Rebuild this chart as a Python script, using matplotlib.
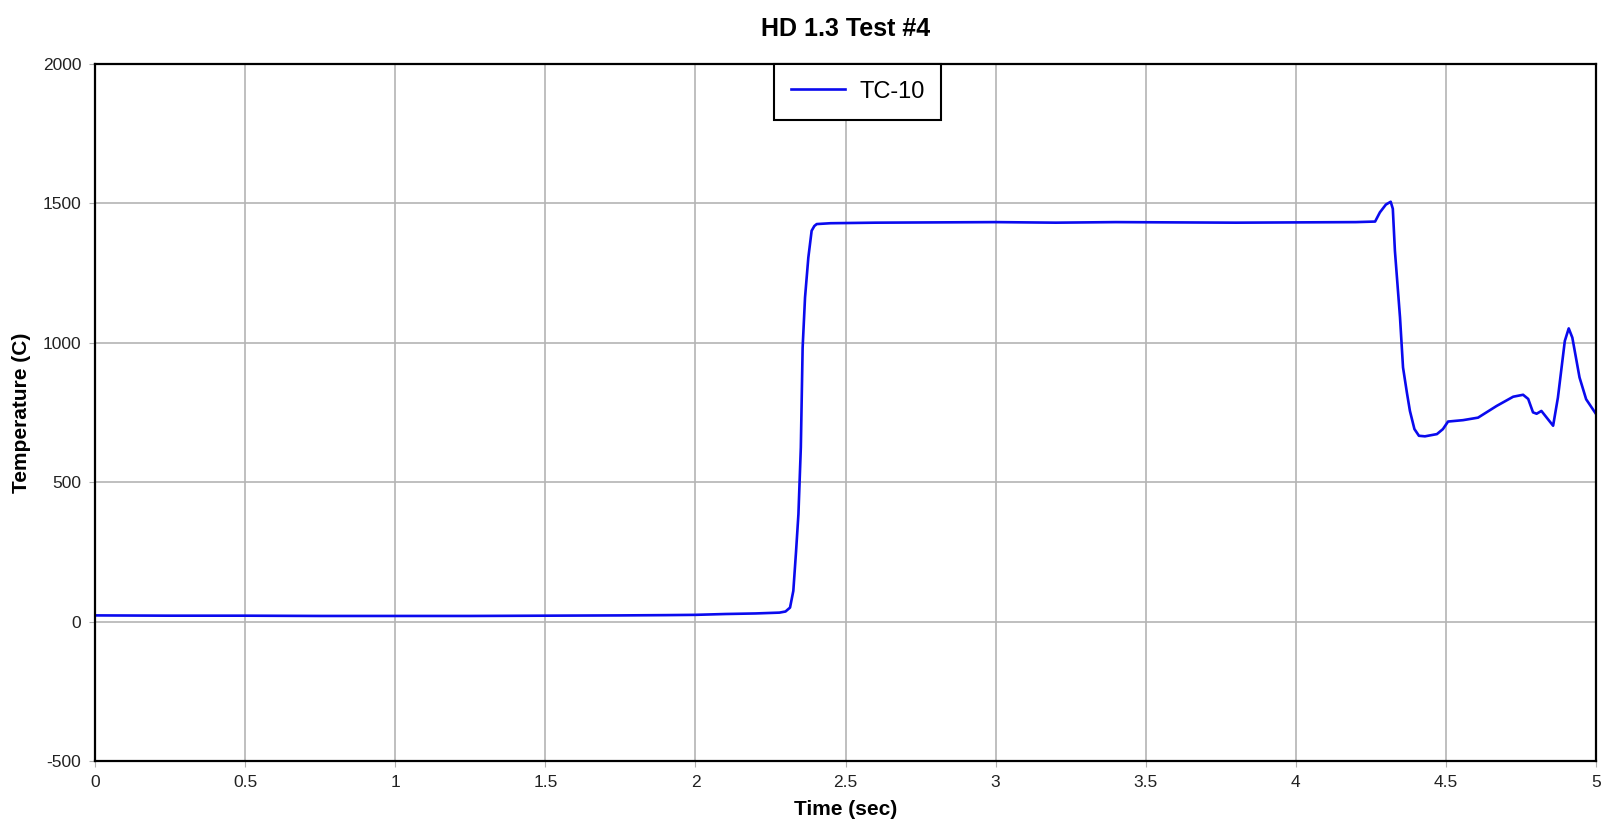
import matplotlib
matplotlib.use("Agg")
import matplotlib.pyplot as plt


# TC-10 readings
time_s = [0, 0.25, 0.5, 0.75, 1.0, 1.25, 1.5, 1.75, 1.9, 2.0,
          2.1, 2.2, 2.28, 2.30, 2.315, 2.326, 2.335, 2.343, 2.351, 2.357,
          2.365, 2.376, 2.387, 2.396, 2.404, 2.45, 2.6, 2.8, 3.0, 3.2,
          3.4, 3.6, 3.8, 4.0, 4.2, 4.264, 4.28, 4.30, 4.316, 4.323,
          4.33, 4.347, 4.357, 4.37, 4.38, 4.395, 4.41, 4.43, 4.47, 4.49,
          4.507, 4.557, 4.607, 4.669, 4.724, 4.757, 4.774, 4.79, 4.802, 4.818,
          4.857, 4.873, 4.896, 4.909, 4.921, 4.945, 4.967, 5.0]
temp_c = [22, 21, 21, 20, 20, 20, 21, 22, 23, 24,
          27, 29, 32, 36, 50, 110, 250, 385, 624, 982,
          1162, 1305, 1401, 1418, 1425, 1428, 1430, 1431, 1432, 1430,
          1432, 1431, 1430, 1431, 1432, 1434, 1467, 1495, 1505, 1480,
          1329, 1090, 911, 820, 755, 690, 666, 664, 672, 690,
          717, 722, 731, 773, 806, 813, 798, 750, 745, 755,
          702, 803, 1006, 1051, 1018, 875, 797, 744]

x_ticks = [0, 0.5, 1, 1.5, 2, 2.5, 3, 3.5, 4, 4.5, 5]
x_tick_labels = ["0", "0.5", "1", "1.5", "2", "2.5", "3", "3.5", "4", "4.5", "5"]
y_ticks = [-500, 0, 500, 1000, 1500, 2000]

plt.rcParams['font.family'] = ['Liberation Sans', 'DejaVu Sans']
plt.rcParams['axes.unicode_minus'] = False

fig = plt.figure(figsize=(16.06, 8.27), dpi=100)
ax = fig.add_axes([0.0592, 0.0798, 0.9346, 0.8432])

ax.plot(time_s, temp_c, color='#0a0aee', lw=1.9, label='TC-10')

ax.set_xlim(0, 5)
ax.set_ylim(-500, 2000)
ax.set_xticks(x_ticks)
ax.set_xticklabels(x_tick_labels)
ax.set_yticks(y_ticks)
ax.tick_params(labelsize=12.5, length=4, color='#b0b0b0', pad=6, labelcolor='#222222')
ax.grid(True, color='#b4b4b4', lw=1.2)
for sp in ax.spines.values():
    sp.set_linewidth(1.6)
    sp.set_color('black')

ax.set_title("HD 1.3 Test #4", fontsize=18, fontweight='bold', pad=20)
ax.set_xlabel("Time (sec)", fontsize=15, fontweight='bold', labelpad=7)
ax.set_ylabel("Temperature (C)", fontsize=15, fontweight='bold', labelpad=8)

leg = ax.legend(loc='upper center', bbox_to_anchor=(0.508, 1.0), borderaxespad=0,
                fontsize=17, handlelength=2.3, handletextpad=0.6, fancybox=False,
                framealpha=1, borderpad=0.72)
leg.get_frame().set_edgecolor('black')
leg.get_frame().set_linewidth(1.5)

fig.savefig("out.png", dpi=100)
